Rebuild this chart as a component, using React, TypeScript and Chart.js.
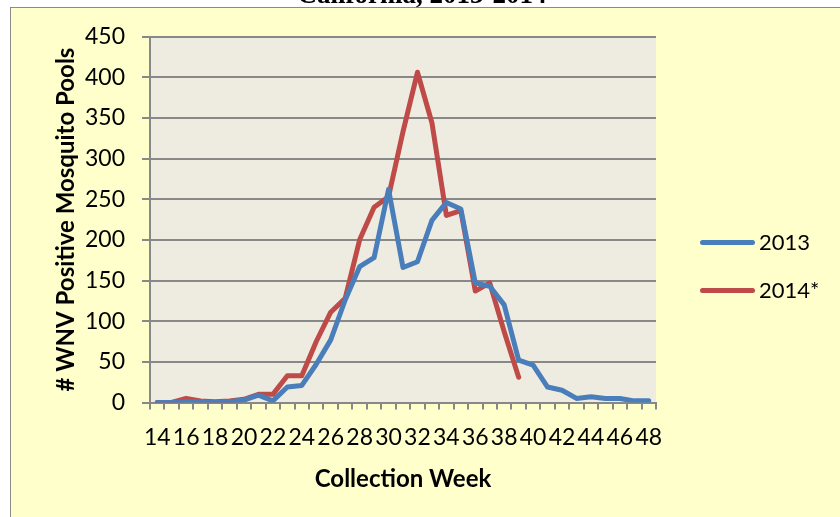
import React, { useEffect, useRef } from "react";
import { Chart, registerables } from "chart.js";

Chart.register(...registerables);

const weeks = [
  "14", "15", "16", "17", "18", "19", "20", "21", "22", "23", "24", "25",
  "26", "27", "28", "29", "30", "31", "32", "33", "34", "35", "36", "37",
  "38", "39", "40", "41", "42", "43", "44", "45", "46", "47", "48",
];

const pools2013 = [
  0, 0, 1, 1, 0, 1, 3, 9, 2, 19, 21, 47,
  77, 126, 167, 178, 262, 166, 173, 224, 246, 238, 147, 143,
  120, 52, 46, 19, 15, 5, 7, 5, 5, 2, 2,
];

const pools2014 = [
  0, 0, 5, 2, 1, 2, 4, 10, 10, 33, 33, 75,
  111, 128, 200, 240, 253, 333, 406, 344, 230, 236, 137, 147,
  87, 31, null, null, null, null, null, null, null, null, null,
];

const seriesLabels = ["2013", "2014*"];
const seriesColors = ["#4A7EBB", "#BE4B48"];
const chartTitle = "California, 2013-2014";
const xTitle = "Collection Week";
const yTitle = "# WNV Positive Mosquito Pools";

const W = 840;
const H = 517;
const PLOT = { left: 150, right: 656, top: 36.5, bottom: 402.5 };
const GRID = "#888888";
const FONT = "Lato, 'Open Sans', sans-serif";

const plotBg = {
  id: "plotBg",
  beforeDraw(chart: any) {
    const { ctx, chartArea } = chart;
    ctx.save();
    ctx.fillStyle = "#EEECE1";
    ctx.fillRect(chartArea.left, chartArea.top, chartArea.right - chartArea.left, chartArea.bottom - chartArea.top);
    ctx.restore();
  },
};

export default function App() {
  const ref = useRef<HTMLCanvasElement>(null);

  useEffect(() => {
    const canvas = ref.current!;
    const padLeft = 52;
    const padBottom = 23;
    const chart = new Chart(canvas, {
      type: "line",
      data: {
        labels: weeks,
        datasets: [pools2013, pools2014].map((d, i) => ({
          label: seriesLabels[i],
          data: d,
          borderColor: seriesColors[i],
          backgroundColor: seriesColors[i],
          borderWidth: 5,
          pointRadius: 0,
          pointHoverRadius: 0,
          tension: 0,
          borderJoinStyle: "round",
          borderCapStyle: "round",
          spanGaps: false,
        })) as any,
      },
      options: {
        responsive: false,
        animation: false,
        events: [],
        layout: {
          padding: { left: padLeft, right: W - PLOT.right, top: PLOT.top, bottom: padBottom },
        },
        plugins: {
          legend: { display: false },
          tooltip: { enabled: false },
        },
        scales: {
          x: {
            type: "category",
            offset: true,
            grid: {
              offset: true,
              drawOnChartArea: false,
              drawTicks: true,
              tickLength: 7,
              color: GRID,
              lineWidth: 2,
            },
            border: { display: true, color: GRID, width: 2 },
            ticks: {
              autoSkip: false,
              maxRotation: 0,
              minRotation: 0,
              padding: 14,
              color: "#000",
              font: { family: FONT, size: 23 },
              callback: (_v: any, i: number) => (i % 2 === 0 ? weeks[i] : ""),
            },
            title: {
              display: true,
              text: xTitle,
              color: "#000",
              font: { family: FONT, size: 24, weight: "bold" },
              padding: 0,
            },
            afterFit: (s: any) => {
              s.height = H - padBottom - PLOT.bottom;
            },
          } as any,
          y: {
            min: 0,
            max: 450,
            ticks: {
              stepSize: 50,
              padding: 17,
              color: "#000",
              font: { family: FONT, size: 23 },
            },
            grid: { color: GRID, lineWidth: 2, tickLength: 8 },
            border: { display: true, color: GRID, width: 2 },
            title: {
              display: true,
              text: yTitle,
              color: "#000",
              font: { family: FONT, size: 24, weight: "bold" },
              padding: 0,
            },
            afterFit: (s: any) => {
              s.width = PLOT.left - padLeft;
            },
          } as any,
        },
      },
      plugins: [plotBg],
    });
    return () => chart.destroy();
  }, []);

  return (
    <div style={{ position: "fixed", left: 0, top: 0, width: W, height: H, background: "#fff", overflow: "hidden" }}>
      <div
        style={{
          position: "absolute",
          left: 10,
          top: 7,
          width: W,
          height: H,
          background: "#FFFFCC",
          border: "1px solid #8a8a8a",
        }}
      />
      <canvas ref={ref} width={W} height={H} style={{ position: "absolute", left: 0, top: 0, width: W, height: H }} />
      <div
        style={{
          position: "absolute",
          left: 0,
          width: W,
          top: -19,
          textAlign: "center",
          paddingLeft: 2,
          fontFamily: "'Liberation Serif', 'DejaVu Serif', serif",
          fontWeight: "bold",
          fontSize: 27,
          lineHeight: "27px",
          color: "#000",
          whiteSpace: "nowrap",
        }}
      >
        {chartTitle}
      </div>
      {seriesLabels.map((name, i) => (
        <React.Fragment key={name}>
          <div
            style={{
              position: "absolute",
              left: 700,
              top: 239.5 + i * 48,
              width: 55,
              height: 5,
              borderRadius: 2.5,
              background: seriesColors[i],
            }}
          />
          <div
            style={{
              position: "absolute",
              left: 759,
              top: 228.5 + i * 48,
              fontFamily: FONT,
              fontSize: 22,
              lineHeight: "26px",
              color: "#000",
              whiteSpace: "nowrap",
            }}
          >
            {name}
          </div>
        </React.Fragment>
      ))}
    </div>
  );
}
